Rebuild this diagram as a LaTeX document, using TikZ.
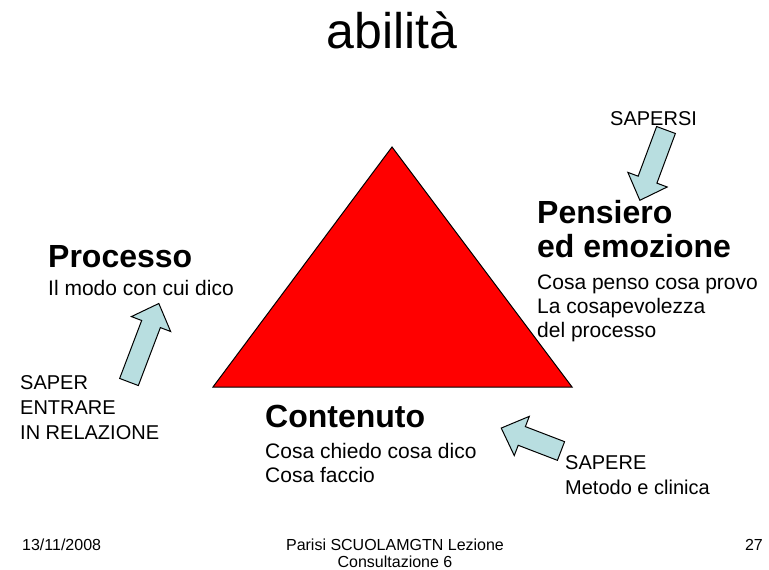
\documentclass[tikz,border=0pt]{standalone}
\usepackage{fontspec}
\setmainfont{Liberation Sans}
\definecolor{arrowblue}{RGB}{184,222,224}
\definecolor{trired}{RGB}{255,0,0}
% block arrow, #1 = length (tail at the origin, pointing along x)
\tikzset{pics/fatarrow/.style={code={
  \draw[fill=arrowblue, line width=1pt] (0,-10) -- (#1-22,-10) -- (#1-22,-21) -- (#1,0)
    -- (#1-22,21) -- (#1-22,10) -- (0,10) -- cycle;}}}
\begin{document}
\begin{tikzpicture}[x=1pt, y=-1pt,
    head/.style={anchor=base west, inner sep=0pt, align=left, font=\fontsize{32}{34}\selectfont\bfseries},
    body/.style={anchor=base west, inner sep=0pt, align=left, font=\fontsize{21}{24}\selectfont},
    know/.style={anchor=base west, inner sep=0pt, align=left, font=\fontsize{20}{25}\selectfont},
    foot/.style={inner sep=0pt, font=\fontsize{16}{17}\selectfont}]
    \fill[white] (0,0) rectangle (769,570);
    \useasboundingbox (0,0) rectangle (769,570);

    \node[inner sep=0pt, anchor=base, font=\fontsize{50}{60}\selectfont] (title) at (392,48) {abilità};

    \coordinate (apex) at (392,147);
    \coordinate (bl) at (213,387);
    \coordinate (br) at (572,387);
    \filldraw[fill=trired, draw=black, line width=1pt] (apex) -- (bl) -- (br) -- cycle;

    % base anchors sit on the last line of each block
    \node[head] (processo) at (48,267) {Processo};
    \node[body] (processotxt) at (48,295) {Il modo con cui dico};

    \node[head] (pensiero) at (537,257) {Pensiero\\ed emozione};
    \node[body] (pensierotxt) at (537,337) {Cosa penso cosa provo\\La cosapevolezza\\del processo};

    \node[head] (contenuto) at (265,427) {Contenuto};
    \node[body] (contenutotxt) at (265,482) {Cosa chiedo cosa dico\\Cosa faccio};

    \node[know] (relazione) at (20,439) {SAPER\\ENTRARE\\IN RELAZIONE};
    \node[know] (sapersi) at (610,125) {SAPERSI};
    \node[know] (sapere) at (565,494) {SAPERE\\Metodo e clinica};

    \pic[rotate=69.2] at (129,382) {fatarrow=84};
    \pic[rotate=-110.4] at (666,130) {fatarrow=75};
    \pic[rotate=159] at (561,451) {fatarrow=64};

    \node[foot, anchor=base west] (date) at (22,550) {13/11/2008};
    \node[foot, anchor=base, align=center] (footer) at (395,567) {Parisi SCUOLAMGTN Lezione\\Consultazione 6};
    \node[foot, anchor=base east] (page) at (763,550) {27};
\end{tikzpicture}
\end{document}
